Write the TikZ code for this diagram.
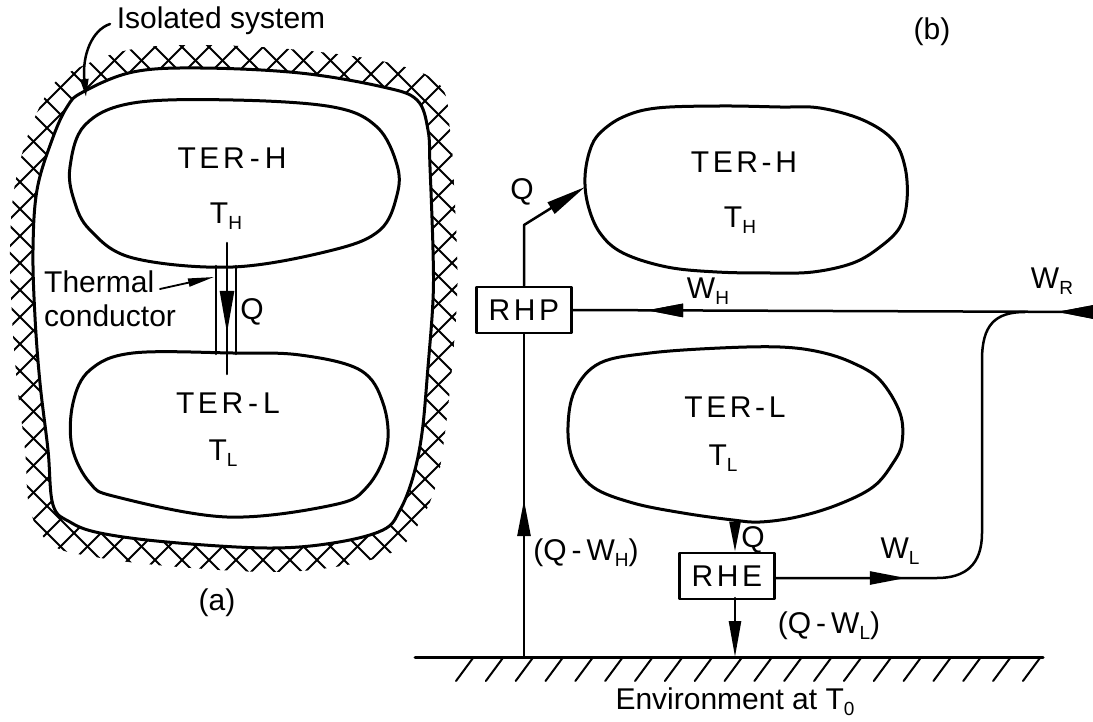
\documentclass[tikz,border=0pt]{standalone}
\usepackage{fontspec}
\setmainfont{Liberation Sans}
\newfontfamily\widefont[LetterSpace=12]{Liberation Sans}
\usetikzlibrary{arrows.meta,decorations.markings}
\newcommand\sbs[1]{\raisebox{-6pt}{\fontsize{19}{19}\selectfont #1}}
\begin{document}
\begin{tikzpicture}[x=1pt,y=-1pt,line join=round,line cap=round,
  outline/.style={line width=3pt},
  conn/.style={line width=2.5pt},
  hatchln/.style={line width=2pt},
  lbl/.style={inner sep=0pt,font=\fontsize{30}{34}\selectfont},
  wlbl/.style={inner sep=0pt,font=\widefont\fontsize{30}{34}\selectfont},
  boxnode/.style={draw,line width=2.8pt,minimum width=95pt,minimum height=46pt,inner sep=0pt,font=\widefont\fontsize{30}{34}\selectfont},
  markhead/.style={postaction={decorate},decoration={markings,mark=at position #1 with {\arrow{Triangle[length=36pt,width=13pt]}}}}
]
\useasboundingbox (0,0) rectangle (1093,722);
\fill[white] (0,0) rectangle (1093,722);

% ---------- (a) isolated system ----------
\begin{scope}
  \clip plot[smooth cycle,tension=0.6] coordinates {(48,92) (70,72) (128,50) (200,45) (300,50) (390,63) (440,85) (450,130) (453,167) (457,250) (457,300) (452,367) (445,433) (436,485) (418,525) (393,552) (335,567) (267,572) (167,566) (95,557) (52,545) (30,510) (25,450) (17,383) (12,317) (10,250) (14,190) (28,135)};
  \foreach \k in {-25,...,20} \draw[hatchln] (\k*27,0) -- ++(700,700);
  \foreach \k in {0,...,42} \draw[hatchln] (\k*27+13,0) -- ++(-700,700);
\end{scope}
\draw[outline,fill=white] plot[smooth cycle,tension=0.6] coordinates {(67,107) (83,92) (133,72) (200,68) (300,73) (383,87) (417,100) (428,130) (430,167) (433,250) (433,300) (428,367) (422,433) (413,477) (400,510) (383,530) (333,543) (267,548) (167,542) (100,533) (70,522) (53,505) (48,450) (40,383) (35,317) (33,250) (37,190) (52,140)};

% reservoirs (a)
\draw[outline] plot[smooth cycle,tension=0.6] coordinates {(70,167) (74,200) (90,230) (133,258) (233,267) (333,250) (380,230) (397,195) (397,165) (377,127) (333,107) (233,100) (133,103) (85,125)};
\draw[outline] plot[smooth cycle,tension=0.6] coordinates {(90,370) (133,353) (233,353) (300,355) (360,370) (383,403) (387,447) (367,487) (333,505) (227,517) (117,497) (90,483) (72,447) (73,403)};

% thermal conductor
\coordinate (cl1) at (216,266); \coordinate (cl2) at (216,354);
\coordinate (cr1) at (236,266); \coordinate (cr2) at (236,354);
\draw[conn] (cl1) -- (cl2);
\draw[conn] (cr1) -- (cr2);
\coordinate (qtop) at (227,243); \coordinate (qbot) at (227,374);
\draw[conn,decoration={markings,mark=at position 90pt with {\arrow{Triangle[length=42pt,width=14pt]}}},postaction={decorate}] (qtop) -- (qbot);

\node[lbl] (isol) at (221,21) {Isolated system};
\coordinate (isolst) at (110,24);
\coordinate (isoltip) at (86,97);
\draw[conn,-{Triangle[length=18pt,width=8pt]}] (isolst) .. controls (92,30) and (82,55) .. (isoltip);

\node[wlbl] (terha) at (232,158) {TER\,-\,H};
\node[lbl] (tha) at (226,216) {T\sbs{H}};
\node[lbl,align=left,anchor=west] (thermal) at (44,299) {Thermal\\conductor};
\coordinate (thst) at (160,289);
\coordinate (thend) at (214,277);
\draw[line width=1.8pt,-{Triangle[length=26pt,width=8pt]}] (thst) -- (thend);
\node[lbl] (qa) at (252,312) {Q};
\node[wlbl] (terla) at (228,403) {TER\,-\,L};
\node[lbl] (tla) at (223,453) {T\sbs{L}};
\node[lbl] (alabel) at (217,603) {(a)};

% ---------- (b) ----------
\node[lbl] (blabel) at (932,32) {(b)};
\draw[outline] plot[smooth cycle,tension=0.6] coordinates {(585,177) (590,150) (600,133) (623,117) (657,108) (720,106) (780,107) (820,108) (863,120) (893,140) (905,167) (907,200) (900,227) (880,247) (853,263) (813,272) (770,273) (717,272) (667,267) (623,253) (600,233) (588,205)};
\draw[outline] plot[smooth cycle,tension=0.6] coordinates {(600,363) (650,353) (720,348) (780,347) (820,352) (853,363) (880,380) (900,413) (902,443) (893,463) (873,487) (837,505) (797,517) (760,522) (733,520) (683,513) (633,503) (593,487) (573,460) (568,427) (575,390)};

\node[wlbl] (terhb) at (744,162) {TER-H};
\node[lbl] (thb) at (740,220) {T\sbs{H}};
\node[wlbl] (terlb) at (735,407) {TER-L};
\node[lbl] (tlb) at (723,458) {T\sbs{L}};

\node[boxnode] (rhp) at (524,310) {RHP};
\node[boxnode] (rhe) at (727,576) {RHE};

\coordinate (thedge) at (585,187);
\coordinate (bend) at (524,225);
\draw[conn,-{Triangle[length=40pt,width=13pt]}] (rhp.north) -- (bend) -- (thedge);
\node[lbl] (qb1) at (522,192) {Q};

% ground
\coordinate (gl) at (415,657);
\coordinate (gr) at (1043,657);
\draw[outline] (gl) -- (gr);
\foreach \i in {0,...,19} \draw[hatchln] (473+\i*29.84,658) -- ++(-17,23);
\node[lbl] (env) at (735,702) {Environment at T\sbs{0}};

% Q - W_H up
\coordinate (g1) at (gl -| rhp.south);
\draw[conn,markhead=157pt] (g1) -- (rhp.south);
\node[lbl] (qwh) at (586,553) {(Q\,-\,W\sbs{H})};

% W_R / W_H line
\coordinate (wre) at (1093,312);
\draw[conn,markhead=36pt,markhead=446pt] (wre) -- (rhp.east);
\node[lbl] (wh) at (708,291) {W\sbs{H}};
\node[lbl] (wr) at (1052,281) {W\sbs{R}};

% TER-L -> RHE
\coordinate (tlbot) at (735,520);
\draw[conn,-{Triangle[length=30pt,width=11pt]}] (tlbot) -- (tlbot |- rhe.north);
\node[lbl] (qb2) at (753,540) {Q};

% RHE -> ground
\coordinate (rheb) at (735,598);
\coordinate (g2) at (735,657);
\draw[conn,-{Triangle[length=36pt,width=12pt]}] (rheb) -- (g2);
\node[lbl] (qwl) at (829,626) {(Q\,-\,W\sbs{L})};

% W_L path
\coordinate (wlc) at (937,578);
\coordinate (vb) at (982,533);
\coordinate (vt) at (982,360);
\coordinate (wjoin) at (1025,312);
\draw[conn,markhead=130pt] (rhe.east |- wlc) -- (wlc) .. controls (965,578) and (982,565) .. (vb) -- (vt) .. controls (982,325) and (995,312) .. (wjoin);
\node[lbl] (wl) at (900,551) {W\sbs{L}};
\end{tikzpicture}
\end{document}
